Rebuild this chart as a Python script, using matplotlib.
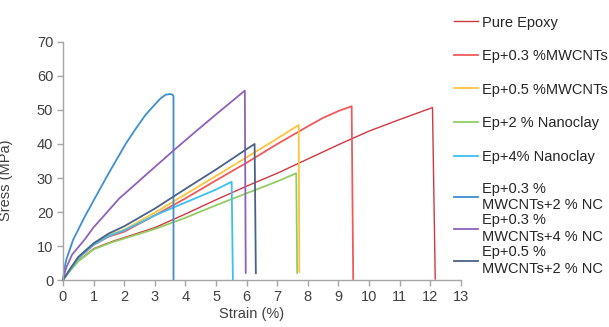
import matplotlib
matplotlib.use("Agg")
import matplotlib.pyplot as plt

plt.rcParams["font.family"] = ["Liberation Sans", "DejaVu Sans"]

# ---------- data (strain %, stress MPa) ----------
names = [
    "Pure Epoxy",
    "Ep+0.3 %MWCNTs",
    "Ep+0.5 %MWCNTs",
    "Ep+2 % Nanoclay",
    "Ep+4% Nanoclay",
    "Ep+0.3 %\nMWCNTs+2 % NC",
    "Ep+0.3 %\nMWCNTs+4 % NC",
    "Ep+0.5 %\nMWCNTs+2 % NC",
]
colors = ["#d2383f", "#f05a5a", "#ffc43a", "#93cc62", "#3cc0ee", "#3d8fd2", "#8e62bb", "#4a6286"]

pure_x = [0, 0.25, 0.5, 1.0, 1.6, 3.0, 4.0, 5.0, 6.0, 7.0, 8.0, 9.0, 10.0, 11.0, 12.07, 12.16]
pure_y = [0, 3.0, 5.6, 9.2, 11.3, 15.4, 19.4, 23.6, 27.6, 31.4, 35.6, 39.8, 43.8, 47.2, 50.7, 0.3]

cnt03_x = [0, 0.25, 0.5, 1.0, 1.5, 2.0, 3.0, 4.0, 5.0, 6.0, 7.0, 7.5, 8.0, 8.5, 9.0, 9.43, 9.48]
cnt03_y = [0, 3.2, 6.3, 10.3, 12.8, 14.2, 19.0, 24.0, 29.3, 34.5, 40.0, 42.6, 45.2, 47.7, 49.7, 51.1, 0.3]

cnt05_x = [0, 0.25, 0.5, 1.0, 1.5, 2.0, 3.0, 4.0, 5.0, 6.0, 7.0, 7.7, 7.72]
cnt05_y = [0, 3.3, 6.5, 10.5, 13.2, 14.8, 19.8, 25.2, 30.6, 36.1, 41.6, 45.6, 2.4]

nc2_x = [0, 0.25, 0.5, 1.0, 1.6, 3.0, 4.0, 5.0, 6.0, 7.0, 7.62, 7.65]
nc2_y = [0, 2.9, 5.5, 9.0, 11.1, 15.0, 18.3, 22.0, 25.5, 29.0, 31.4, 2.1]

nc4_x = [0, 0.25, 0.5, 1.0, 1.5, 2.0, 3.0, 3.6, 4.0, 5.0, 5.51, 5.55]
nc4_y = [0, 3.2, 6.4, 10.4, 13.0, 14.6, 19.0, 21.3, 22.8, 26.6, 28.9, 0]

cnt03nc2_x = [0, 0.05, 0.11, 0.33, 0.71, 1.1, 1.5, 2.06, 2.4, 2.7, 3.0, 3.2, 3.36, 3.5, 3.58, 3.61, 3.61]
cnt03nc2_y = [0, 3.5, 6.0, 11.8, 18.6, 25.0, 31.5, 40.2, 44.8, 48.6, 51.6, 53.5, 54.5, 54.7, 54.5, 54.0, 0]

cnt03nc4_x = [0, 0.1, 0.3, 0.7, 1.0, 1.3, 1.84, 2.17, 2.82, 3.6, 4.3, 5.0, 5.94, 5.97]
cnt03nc4_y = [0, 3.5, 7.5, 11.8, 15.5, 18.5, 24.0, 26.6, 31.8, 38.0, 43.4, 48.7, 55.7, 2.1]

cnt05nc2_x = [0, 0.25, 0.5, 1.0, 1.5, 2.0, 3.0, 4.0, 5.0, 6.0, 6.26, 6.3]
cnt05nc2_y = [0, 3.5, 6.8, 10.8, 13.7, 15.8, 21.0, 26.8, 32.5, 38.5, 40.0, 2.0]

series_x = [pure_x, cnt03_x, cnt05_x, nc2_x, nc4_x, cnt03nc2_x, cnt03nc4_x, cnt05nc2_x]
series_y = [pure_y, cnt03_y, cnt05_y, nc2_y, nc4_y, cnt03nc2_y, cnt03nc4_y, cnt05nc2_y]

xticks = list(range(0, 14))
yticks = list(range(0, 71, 10))

# ---------- plot ----------
fig = plt.figure(figsize=(6.09, 3.27), dpi=100)
ax = fig.add_axes([0.1034, 0.1437, 0.6535, 0.7279])

lines = []
for i, (xs, ys) in enumerate(zip(series_x, series_y)):
    lw = 1.0 if i == 0 else 1.3
    (ln,) = ax.plot(xs, ys, color=colors[i], lw=lw, label=names[i], clip_on=False)
    lines.append(ln)

ax.set_xlim(0, 13)
ax.set_ylim(0, 70)
ax.set_xticks(xticks)
ax.set_yticks(yticks)
for s in ["top", "right"]:
    ax.spines[s].set_visible(False)
for s in ["left", "bottom"]:
    ax.spines[s].set_color("#a6a6a6")
    ax.spines[s].set_linewidth(1.0)
ax.tick_params(direction="out", length=4, width=1.0, color="#a6a6a6",
               labelsize=10.5, labelcolor="#404040", pad=3)

ax.set_xlabel("Strain (%)", fontsize=10.5, color="#404040")
ax.set_ylabel("Sress (MPa)", fontsize=10.5, color="#404040")
ax.xaxis.set_label_coords(0.475, -0.115)
ax.yaxis.set_label_coords(-0.125, 0.42)

leg_kw = dict(loc="upper left", bbox_transform=fig.transFigure, frameon=False,
              fontsize=10.5, handlelength=1.65, handletextpad=0.3,
              borderpad=0, borderaxespad=0)
leg1 = ax.legend(handles=lines[:5], bbox_to_anchor=(454 / 609, 1 - 15.5 / 327),
                 labelspacing=1.34, **leg_kw)
for t in leg1.get_texts():
    t.set_color("#262626")
ax.add_artist(leg1)
leg2 = ax.legend(handles=lines[5:], bbox_to_anchor=(454 / 609, 1 - 181.5 / 327),
                 labelspacing=0.12, **leg_kw)
for t in leg2.get_texts():
    t.set_color("#262626")

fig.savefig("out.png", dpi=100)
